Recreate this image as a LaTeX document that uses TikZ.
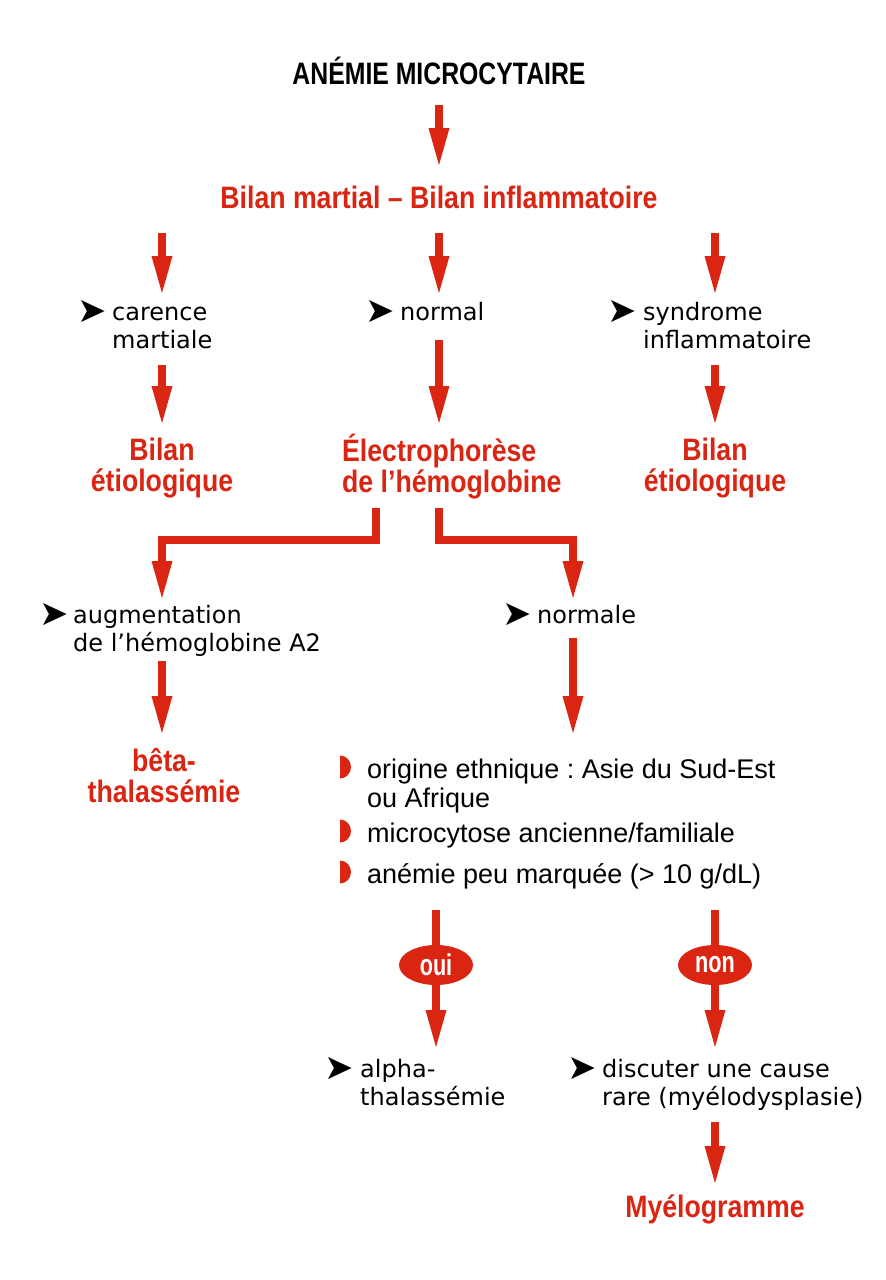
\documentclass[tikz,border=0pt]{standalone}
\usepackage{fontspec}
\setmainfont{Liberation Sans}
\newfontfamily\redfont[FakeStretch=0.86]{Liberation Sans}
\newfontfamily\answerfont[FakeStretch=0.72]{Liberation Sans}
\newfontfamily\titlefont[FakeStretch=0.8]{Liberation Sans}
\newfontfamily\itemfont{DejaVu Sans}
\usetikzlibrary{arrows.meta,shapes.geometric}
\definecolor{rd}{RGB}{218,37,18}
\frenchspacing
\tikzset{
  flow/.style={draw=rd, line width=7.5pt, line join=miter,
    -{Triangle[width=21pt,length=37pt,line width=0pt]}},
  title/.style={inner sep=0pt, anchor=base, font=\titlefont\bfseries\fontsize{31}{31}\selectfont},
  redhead/.style={inner sep=0pt, anchor=base, text=rd, align=center,
    font=\redfont\bfseries\fontsize{31}{31}\selectfont},
  item/.style={inner sep=0pt, anchor=base west, align=left,
    font=\itemfont\fontsize{24}{28}\selectfont},
  pointer/.style={inner sep=0pt, anchor=base west, yshift=-2pt,
    font=\itemfont\fontsize{35}{35}\selectfont},
  bullettext/.style={inner sep=0pt, anchor=base west, align=left,
    font=\fontsize{27}{29}\selectfont},
  answer/.style={ellipse, fill=rd, text=white, inner sep=0pt,
    minimum width=74pt, minimum height=40pt,
    font=\answerfont\bfseries\fontsize{30}{30}\selectfont}
}
\begin{document}
\begin{tikzpicture}[x=1pt,y=-1pt]
\useasboundingbox[fill=white] (0,0) rectangle (886,1280);

% texts (multi-line nodes are placed by the baseline of their last line)
\node[title] (title) at (439,84) {ANÉMIE MICROCYTAIRE};
\node[redhead] (bilan) at (439,208) {Bilan martial – Bilan inflammatoire};

\node[pointer] (p1) at (77,320) {➤};
\node[item] (carence) at (112,348) {carence\\martiale};
\node[pointer] (p2) at (365,320) {➤};
\node[item] (normal) at (400,320) {normal};
\node[pointer] (p3) at (607,320) {➤};
\node[item] (syndrome) at (643,348) {syndrome\\inflammatoire};

\node[redhead] (etio1) at (162,491) {Bilan\\étiologique};
\node[redhead, align=left, anchor=base west] (electro) at (342,492) {Électrophorèse\\de l’hémoglobine};
\node[redhead] (etio2) at (715,491) {Bilan\\étiologique};

\node[pointer] (p4) at (39,623) {➤};
\node[item] (augm) at (73,651) {augmentation\\de l’hémoglobine A2};
\node[pointer] (p5) at (502,623) {➤};
\node[item] (normale) at (537,623) {normale};

\node[redhead] (beta) at (164,802) {bêta-\\thalassémie};

\node[bullettext] (c1) at (367,807) {origine ethnique : Asie du Sud-Est\\ou Afrique};
\node[bullettext] (c2) at (367,842) {microcytose ancienne/familiale};
\node[bullettext] (c3) at (367,883) {anémie peu marquée (> 10 g/dL)};
\foreach \n/\yy in {k1/767,k2/831,k3/872}{
  \coordinate (\n) at (340,\yy);
  \fill[rd] ([yshift=-11.5pt]\n) arc[start angle=-90,end angle=90,x radius=11pt,y radius=11.5pt] -- cycle;
}

\node[pointer] (p6) at (324,1077) {➤};
\node[item] (alpha) at (360,1105) {alpha-\\thalassémie};
\node[pointer] (p7) at (567,1077) {➤};
\node[item] (discuter) at (602,1105) {discuter une cause\\rare (myélodysplasie)};

\node[redhead] (myelo) at (715,1217) {Myélogramme};

% arrow end points
\coordinate (a0s) at (439,105);  \coordinate (a0e) at (439,165);
\coordinate (a1s) at (162,233);  \coordinate (a1e) at (162,293);
\coordinate (a2s) at (439,233);  \coordinate (a2e) at (439,293);
\coordinate (a3s) at (715,233);  \coordinate (a3e) at (715,293);
\coordinate (b1s) at (162,365);  \coordinate (b1e) at (162,423);
\coordinate (b2s) at (439,340);  \coordinate (b2e) at (439,423);
\coordinate (b3s) at (715,365);  \coordinate (b3e) at (715,423);
\coordinate (l1s) at (376,508);  \coordinate (l1e) at (162,598);
\coordinate (r1s) at (439,508);  \coordinate (r1e) at (573,598);
\coordinate (d1s) at (162,661);  \coordinate (d1e) at (162,733);
\coordinate (d2s) at (573,638);  \coordinate (d2e) at (573,733);
\coordinate (e1s) at (436,910);  \coordinate (e1e) at (436,1047);
\coordinate (e2s) at (715,910);  \coordinate (e2e) at (715,1047);
\coordinate (f1s) at (715,1122); \coordinate (f1e) at (715,1183);

\draw[flow] (a0s) -- (a0e);
\draw[flow] (a1s) -- (a1e);
\draw[flow] (a2s) -- (a2e);
\draw[flow] (a3s) -- (a3e);
\draw[flow] (b1s) -- (b1e);
\draw[flow] (b2s) -- (b2e);
\draw[flow] (b3s) -- (b3e);
\draw[flow] (l1s) -- (376,540) -- (162,540) -- (l1e);
\draw[flow] (r1s) -- (439,540) -- (573,540) -- (r1e);
\draw[flow] (d1s) -- (d1e);
\draw[flow] (d2s) -- (d2e);
\draw[flow] (e1s) -- (e1e);
\draw[flow] (e2s) -- (e2e);
\draw[flow] (f1s) -- (f1e);

\node[answer] (oui) at (436,965) {oui};
\node[answer] (non) at (715,965) {non};
\end{tikzpicture}
\end{document}
